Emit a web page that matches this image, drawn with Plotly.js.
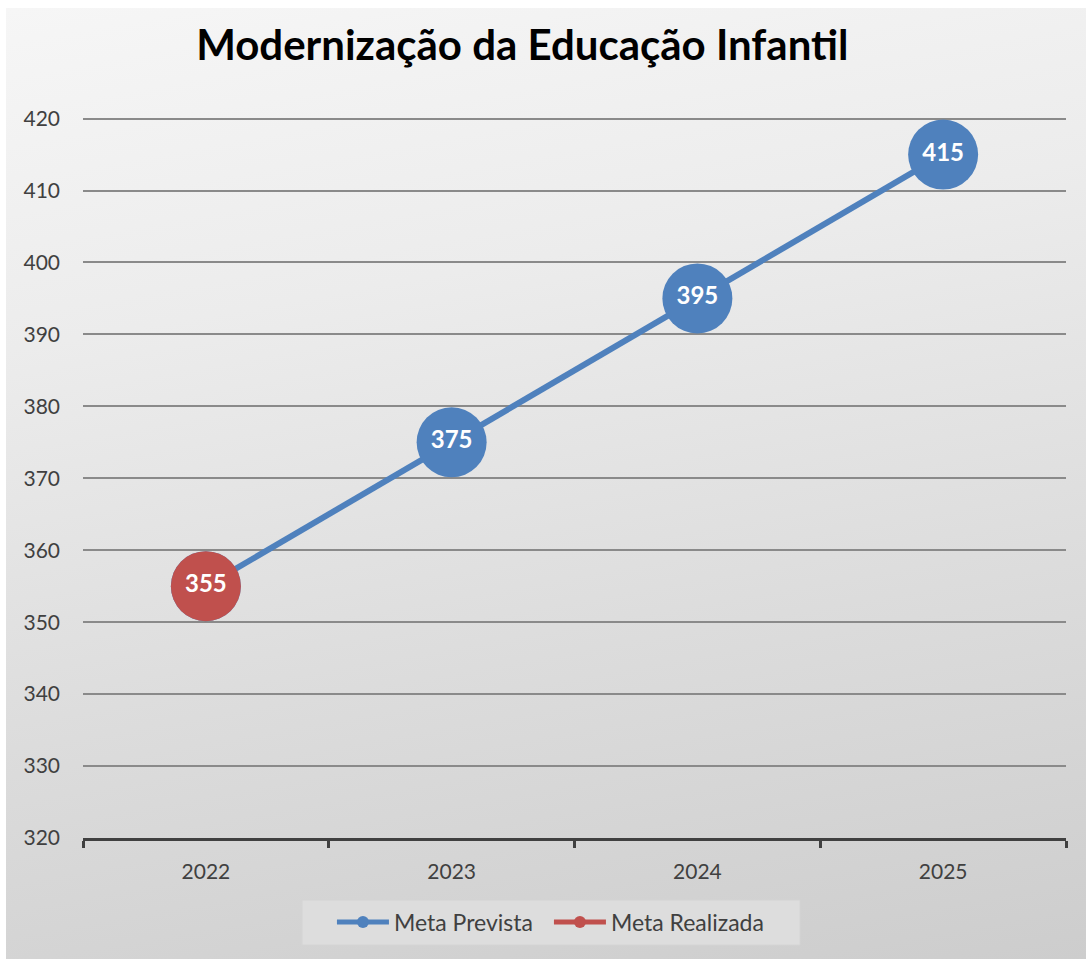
<!DOCTYPE html>
<html>
<head>
<meta charset="utf-8">
<script src="https://cdn.plot.ly/plotly-3.0.1.min.js"></script>
<style>
  html, body { margin: 0; padding: 0; background: #ffffff; }
  #bg { position: absolute; left: 6px; top: 8px; width: 1080px; height: 951px;
        background: linear-gradient(170deg, #f6f6f6 0%, #ececec 30%, #dcdcdc 65%, #cdcdcd 100%); }
  #chart { position: absolute; left: 0; top: 0; width: 1086px; height: 959px; }
</style>
</head>
<body>
<div id="bg"></div>
<div id="chart"></div>
<script>
const years = ['2022', '2023', '2024', '2025'];
const metaPrevista = [355, 375, 395, 415];
const metaRealizada = [355, null, null, null];
const yTicks = [320, 330, 340, 350, 360, 370, 380, 390, 400, 410, 420];

const FONT = 'Lato, "Open Sans", sans-serif';

function labels(arr) { return arr.map(v => v === null ? '' : String(v)); }

const traces = [
  {
    x: years, y: metaPrevista, name: 'Meta Prevista', type: 'scatter',
    mode: 'lines+markers+text',
    line: { color: '#4F81BD', width: 6 },
    marker: { color: '#4F81BD', size: 70 },
    text: labels(metaPrevista), textposition: 'middle center',
    textfont: { family: FONT, size: 24, color: '#ffffff', weight: 'bold' },
    hoverinfo: 'skip', cliponaxis: false
  },
  {
    x: years, y: metaRealizada, name: 'Meta Realizada', type: 'scatter',
    mode: 'lines+markers+text',
    line: { color: '#C0504D', width: 6 },
    marker: { color: '#C0504D', size: 70 },
    text: labels(metaRealizada), textposition: 'middle center',
    textfont: { family: FONT, size: 24, color: '#ffffff', weight: 'bold' },
    hoverinfo: 'skip', cliponaxis: false
  }
];

const layout = {
  width: 1086, height: 959,
  paper_bgcolor: 'rgba(0,0,0,0)', plot_bgcolor: 'rgba(0,0,0,0)',
  margin: { l: 83, r: 20, t: 115, b: 121, pad: 0 },
  font: { family: FONT, color: '#404040', size: 21 },
  title: {
    text: 'Modernização da Educação Infantil',
    font: { family: FONT, size: 42, color: '#000000', weight: 'bold' },
    x: 0.481, xanchor: 'center', y: 0.953, yanchor: 'middle'
  },
  showlegend: true,
  legend: {
    orientation: 'h', x: 0.474, xanchor: 'center', y: -0.1162, yanchor: 'middle',
    bgcolor: 'rgba(0,0,0,0)', borderwidth: 0,
    font: { family: FONT, size: 23, color: '#404040' },
    itemsizing: 'constant', itemwidth: 52, entrywidth: 150,
    itemclick: false, itemdoubleclick: false
  },
  shapes: [
    { type: 'rect', xref: 'paper', yref: 'paper', x0: 0.2228, x1: 0.7294, y0: -0.148, y1: -0.0858,
      fillcolor: '#dddddd', line: { color: '#d4d4d4', width: 1 }, layer: 'below' }
  ],
  xaxis: {
    type: 'category', range: [-0.5, 3.5], fixedrange: true,
    showgrid: false, zeroline: false,
    showline: true, linecolor: '#404040', linewidth: 3,
    ticks: 'outside', tickson: 'boundaries', ticklen: 7, tickwidth: 3, tickcolor: '#404040',
    tickfont: { family: FONT, size: 21, color: '#404040' },
    ticklabelstandoff: 13
  },
  yaxis: {
    range: [320, 420.5], fixedrange: true,
    tickmode: 'array', tickvals: yTicks, ticktext: yTicks.map(String),
    showgrid: true, gridcolor: '#8a8a8a', gridwidth: 1.5,
    zeroline: false, showline: false, ticks: '',
    tickfont: { family: FONT, size: 21, color: '#404040' },
    ticklabelstandoff: 22
  }
};

Plotly.newPlot('chart', traces, layout, { displayModeBar: false });
</script>
</body>
</html>
